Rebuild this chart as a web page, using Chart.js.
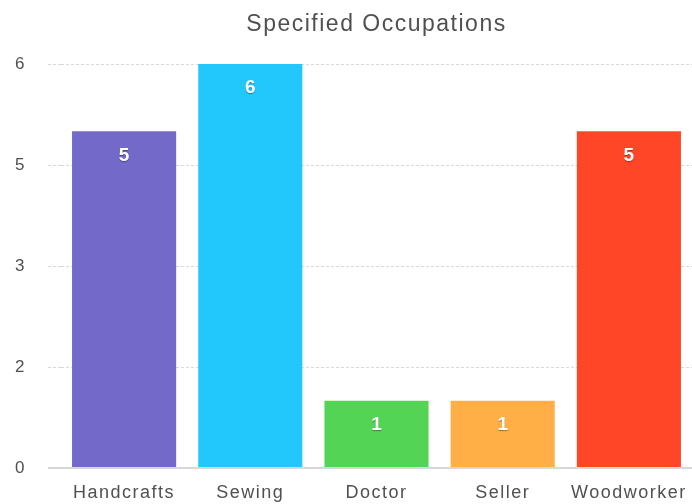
<!DOCTYPE html>
<html>
<head>
<meta charset="utf-8">
<script src="https://cdn.jsdelivr.net/npm/chart.js@4/dist/chart.umd.min.js"></script>
<style>
  html,body{margin:0;padding:0;background:#fff;}
  #wrap{width:692px;height:504px;position:relative;}
</style>
</head>
<body>
<div id="wrap"><canvas id="c" width="692" height="504"></canvas></div>
<script>
const categories = ["Handcrafts", "Sewing", "Doctor", "Seller", "Woodworker"];
const counts = [5, 6, 1, 1, 5];
const barColors = ["#7369C9", "#22C8FB", "#53D454", "#FFAF45", "#FF4727"];
const titleText = "Specified Occupations";

const FONT = "'Liberation Sans', Arial, Helvetica, sans-serif";

const spacing = {
  id: 'spacing',
  beforeDraw(chart) { chart.ctx.letterSpacing = '1.5px'; }
};

const valueLabels = {
  id: 'valueLabels',
  afterDatasetsDraw(chart) {
    const ctx = chart.ctx;
    const meta = chart.getDatasetMeta(0);
    ctx.save();
    ctx.letterSpacing = '0px';
    ctx.font = "bold 19px " + FONT;
    ctx.fillStyle = "#ffffff";
    ctx.textAlign = "center";
    ctx.textBaseline = "middle";
    ctx.shadowColor = "rgba(0,0,0,0.35)";
    ctx.shadowOffsetY = 1;
    ctx.shadowBlur = 1;
    meta.data.forEach((bar, i) => {
      ctx.fillText(String(counts[i]), bar.x, bar.y + 24);
    });
    ctx.restore();
  }
};

new Chart(document.getElementById('c'), {
  type: 'bar',
  data: {
    labels: categories,
    datasets: [{
      data: counts,
      backgroundColor: barColors,
      borderWidth: 0,
      barPercentage: 0.825,
      categoryPercentage: 1.0
    }]
  },
  options: {
    responsive: false,
    animation: false,
    devicePixelRatio: 1,
    layout: { padding: { left: 15, right: 0, top: 0, bottom: 0 } },
    plugins: {
      legend: { display: false },
      tooltip: { enabled: false },
      title: {
        display: true,
        text: titleText,
        fullSize: false,
        color: "#505050",
        font: { family: FONT, size: 23, weight: 'normal' },
        padding: { top: 11, bottom: 25.4 }
      }
    },
    scales: {
      x: {
        grid: { display: false, drawTicks: false },
        border: { display: false },
        ticks: {
          color: "#505050",
          font: { family: FONT, size: 18 },
          padding: 14,
          maxRotation: 0,
          autoSkip: false
        },
        afterFit(scale) {
          scale.height = 36;
          scale.paddingLeft = 0;
          scale.paddingRight = 0;
        }
      },
      y: {
        min: 0,
        max: 6,
        border: {
          display: false,
          dash: (ctx) => (ctx.tick && ctx.tick.value === 0) ? [] : [3, 2]
        },
        grid: {
          color: (ctx) => (ctx.tick && ctx.tick.value === 0) ? "#d8d8d8" : "#d9d9d9",
          lineWidth: (ctx) => (ctx.tick && ctx.tick.value === 0) ? 2 : 1,
          drawTicks: true,
          tickLength: 13,
          tickBorderDash: (ctx) => (ctx.tick && ctx.tick.value === 0) ? [] : [3, 2]
        },
        ticks: {
          stepSize: 1.5,
          color: "#505050",
          font: { family: FONT, size: 17 },
          padding: 22,
          callback: (v) => String(Math.round(v))
        },
        afterFit(scale) {
          scale.width = 46;
          scale.paddingTop = 0;
          scale.paddingBottom = 0;
        }
      }
    }
  },
  plugins: [spacing, valueLabels]
});
</script>
</body>
</html>
